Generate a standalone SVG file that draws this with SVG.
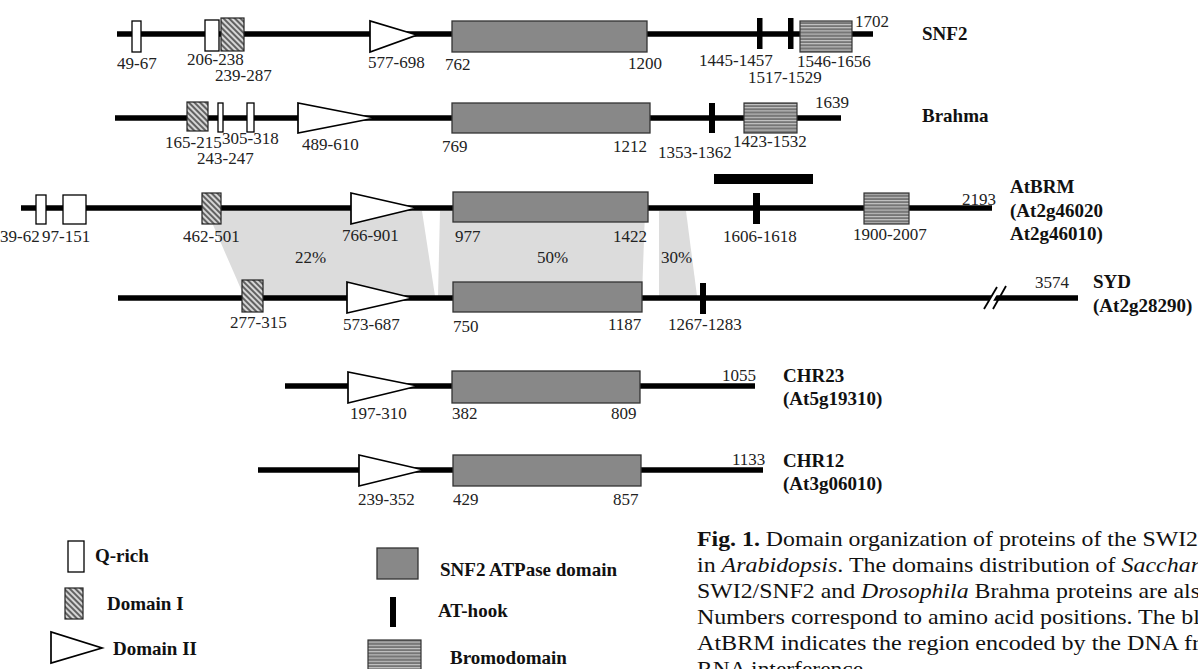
<svg xmlns="http://www.w3.org/2000/svg" width="1198" height="669" viewBox="0 0 1198 669">
<defs>
<pattern id="hatch" width="4" height="4" patternUnits="userSpaceOnUse" patternTransform="rotate(-45)">
<rect width="4" height="4" fill="#d6d6d6"/>
<line x1="1" y1="0" x2="1" y2="4" stroke="#444" stroke-width="1.6"/>
</pattern>
<pattern id="bromo" width="4" height="3.2" patternUnits="userSpaceOnUse">
<rect width="4" height="3.2" fill="#767676"/>
<rect y="1.7" width="4" height="0.9" fill="#d4d4d4"/>
</pattern>
<style>
.bb{stroke:#000;stroke-width:5.5;fill:none}
.q{fill:#fff;stroke:#000;stroke-width:1.3}
.d1{fill:url(#hatch);stroke:#222;stroke-width:1.2}
.d2{fill:#fff;stroke:#000;stroke-width:1.7}
.atp{fill:#888;stroke:#333;stroke-width:1.3}
.at{fill:#000}
.br{fill:url(#bromo);stroke:#333;stroke-width:1.2}
.n{font-family:"Liberation Serif",serif;font-size:17px;fill:#222}
.l{font-family:"Liberation Serif",serif;font-size:19px;font-weight:bold;fill:#111}
.c{font-family:"Liberation Serif",serif;font-size:22px;fill:#111}
.sim{fill:#dcdcdc}
</style>
</defs>
<rect width="1198" height="669" fill="#fff"/>

<g id="connectors">
<polygon class="sim" points="207,211 422,211 435,296 244,296"/>
<polygon class="sim" points="440,211 645,211 642,296 438,296"/>
<polygon class="sim" points="659,211 686,211 697,296 659,296"/>
<text class="n" x="295" y="263">22%</text>
<text class="n" x="537" y="263">50%</text>
<text class="n" x="661" y="263">30%</text>
</g>

<g id="snf2">
<line class="bb" x1="117" y1="34" x2="873" y2="34"/>
<rect class="q" x="132" y="21" width="9" height="31"/>
<rect class="q" x="205" y="20" width="14" height="31"/>
<rect class="d1" x="221" y="18" width="23" height="33"/>
<polygon class="d2" points="370,21 370,52 417,35"/>
<rect class="atp" x="452" y="21" width="195" height="31"/>
<rect class="at" x="757" y="18" width="5.5" height="31"/>
<rect class="at" x="788" y="18" width="5.5" height="31"/>
<rect class="br" x="800" y="21" width="52" height="31"/>
<text class="n" x="855" y="27">1702</text>
<text class="n" x="117" y="69">49-67</text>
<text class="n" x="187" y="65">206-238</text>
<text class="n" x="215" y="81">239-287</text>
<text class="n" x="368" y="68">577-698</text>
<text class="n" x="445" y="70">762</text>
<text class="n" x="628" y="69">1200</text>
<text class="n" x="699" y="66">1445-1457</text>
<text class="n" x="748" y="83">1517-1529</text>
<text class="n" x="797" y="67">1546-1656</text>
<text class="l" x="922" y="40">SNF2</text>
</g>

<g id="brahma">
<line class="bb" x1="115" y1="118" x2="841" y2="118"/>
<rect class="d1" x="187" y="102" width="21" height="29"/>
<rect class="q" x="218" y="103" width="5" height="29"/>
<rect class="q" x="247" y="103" width="7" height="29"/>
<polygon class="d2" points="298,103 298,133 375,118"/>
<rect class="atp" x="452" y="103" width="198" height="30"/>
<rect class="at" x="709" y="103" width="6" height="30"/>
<rect class="br" x="744" y="103" width="53" height="30"/>
<text class="n" x="815" y="108">1639</text>
<text class="n" x="165" y="148">165-215</text>
<text class="n" x="222" y="144">305-318</text>
<text class="n" x="197" y="164">243-247</text>
<text class="n" x="302" y="150">489-610</text>
<text class="n" x="442" y="152">769</text>
<text class="n" x="613" y="152">1212</text>
<text class="n" x="658" y="158">1353-1362</text>
<text class="n" x="733" y="147">1423-1532</text>
<text class="l" x="922" y="122">Brahma</text>
</g>

<g id="atbrm">
<rect class="at" x="714" y="174" width="99" height="10"/>
<line class="bb" x1="21" y1="208" x2="992" y2="208"/>
<rect class="q" x="36" y="195" width="10" height="29"/>
<rect class="q" x="63" y="195" width="23" height="29"/>
<rect class="d1" x="202" y="193" width="19" height="31"/>
<polygon class="d2" points="351,193 351,224 417,208"/>
<rect class="atp" x="453" y="192" width="195" height="30"/>
<rect class="at" x="753" y="193" width="7" height="31"/>
<rect class="br" x="864" y="193" width="45" height="31"/>
<text class="n" x="962" y="205">2193</text>
<text class="n" x="0" y="242">39-62</text>
<text class="n" x="42" y="242">97-151</text>
<text class="n" x="183" y="242">462-501</text>
<text class="n" x="342" y="241">766-901</text>
<text class="n" x="455" y="242">977</text>
<text class="n" x="613" y="242">1422</text>
<text class="n" x="723" y="242">1606-1618</text>
<text class="n" x="853" y="240">1900-2007</text>
<text class="l" x="1010" y="193">AtBRM</text>
<text class="l" x="1010" y="217">(At2g46020</text>
<text class="l" x="1010" y="240">At2g46010)</text>
</g>

<g id="syd">
<line class="bb" x1="118" y1="298" x2="1078" y2="298"/>
<rect class="d1" x="242" y="280" width="21" height="32"/>
<polygon class="d2" points="347,282 347,313 413,298"/>
<rect class="atp" x="453" y="282" width="189" height="30"/>
<rect class="at" x="700" y="283" width="6" height="31"/>
<line x1="986" y1="309" x2="999" y2="287" stroke="#fff" stroke-width="4"/>
<line x1="984" y1="309" x2="997" y2="287" stroke="#000" stroke-width="1.8"/>
<line x1="993" y1="309" x2="1006" y2="286" stroke="#000" stroke-width="1.8"/>
<text class="n" x="1035" y="288">3574</text>
<text class="n" x="230" y="328">277-315</text>
<text class="n" x="343" y="330">573-687</text>
<text class="n" x="453" y="332">750</text>
<text class="n" x="608" y="330">1187</text>
<text class="n" x="668" y="330">1267-1283</text>
<text class="l" x="1093" y="288">SYD</text>
<text class="l" x="1093" y="312">(At2g28290)</text>
</g>

<g id="chr23">
<line class="bb" x1="285" y1="386" x2="755" y2="386"/>
<polygon class="d2" points="348,372 348,403 418,386"/>
<rect class="atp" x="452" y="371" width="188" height="32"/>
<text class="n" x="722" y="381">1055</text>
<text class="n" x="350" y="419">197-310</text>
<text class="n" x="452" y="419">382</text>
<text class="n" x="611" y="419">809</text>
<text class="l" x="783" y="382">CHR23</text>
<text class="l" x="783" y="405">(At5g19310)</text>
</g>

<g id="chr12">
<line class="bb" x1="258" y1="470" x2="763" y2="470"/>
<polygon class="d2" points="359,455 359,486 424,470"/>
<rect class="atp" x="453" y="455" width="188" height="31"/>
<text class="n" x="732" y="465">1133</text>
<text class="n" x="358" y="505">239-352</text>
<text class="n" x="453" y="505">429</text>
<text class="n" x="613" y="505">857</text>
<text class="l" x="783" y="467">CHR12</text>
<text class="l" x="783" y="490">(At3g06010)</text>
</g>

<g id="legend">
<rect class="q" x="68" y="541" width="16" height="31"/>
<text class="l" x="95" y="562">Q-rich</text>
<rect class="d1" x="65" y="588" width="18" height="31"/>
<text class="l" x="107" y="610">Domain I</text>
<polygon class="d2" points="51,632 51,663 102,648"/>
<text class="l" x="113" y="655">Domain II</text>
<rect class="atp" x="377" y="548" width="41" height="31"/>
<text class="l" x="440" y="576">SNF2 ATPase domain</text>
<rect class="at" x="390" y="597" width="6" height="30"/>
<text class="l" x="438" y="617">AT-hook</text>
<rect class="br" x="368" y="640" width="53" height="34"/>
<text class="l" x="450" y="664">Bromodomain</text>
</g>

<g id="caption">
<text class="c" x="697" y="546" textLength="501" lengthAdjust="spacingAndGlyphs"><tspan font-weight="bold">Fig. 1.</tspan> Domain organization of proteins of the SWI2</text>
<text class="c" x="697" y="572" textLength="503" lengthAdjust="spacingAndGlyphs">in <tspan font-style="italic">Arabidopsis</tspan>. The domains distribution of <tspan font-style="italic">Sacchar</tspan></text>
<text class="c" x="697" y="598" textLength="503" lengthAdjust="spacingAndGlyphs">SWI2/SNF2 and <tspan font-style="italic">Drosophila</tspan> Brahma proteins are als</text>
<text class="c" x="697" y="624" textLength="503" lengthAdjust="spacingAndGlyphs">Numbers correspond to amino acid positions. The bl</text>
<text class="c" x="697" y="650" textLength="503" lengthAdjust="spacingAndGlyphs">AtBRM indicates the region encoded by the DNA fr</text>
<text class="c" x="697" y="676" textLength="172" lengthAdjust="spacingAndGlyphs">RNA interference.</text>
</g>
</svg>
